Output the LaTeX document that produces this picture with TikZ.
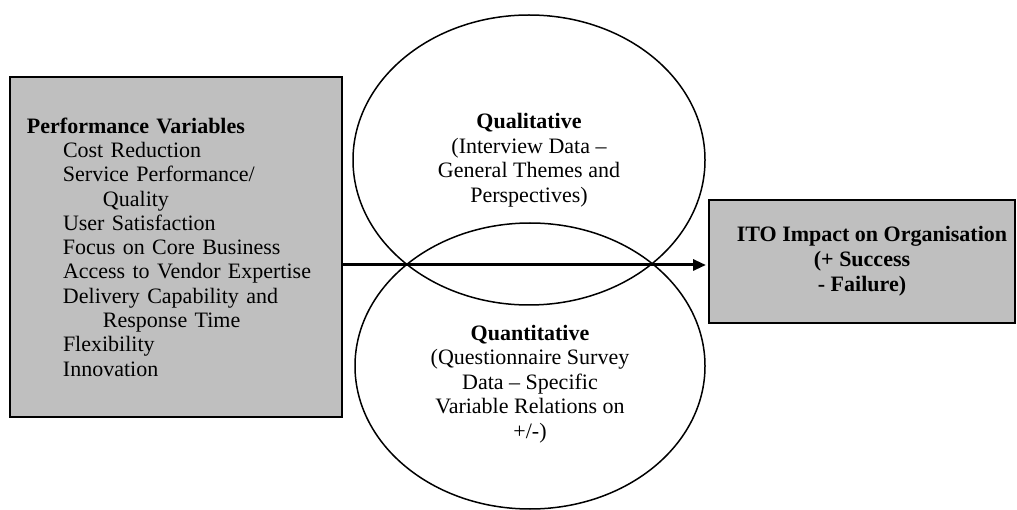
\documentclass[tikz,border=0pt]{standalone}
\usepackage{fontspec}
\setmainfont{Liberation Serif}
\usetikzlibrary{shapes.geometric,arrows.meta}
\begin{document}
\begin{tikzpicture}[x=1pt,y=-1pt,
  graybox/.style={draw=black,line width=2pt,fill=black!25,rectangle},
  oval/.style={draw=black,line width=1.5pt,ellipse,inner sep=0pt},
  txt/.style={font=\fontsize{22}{24.5}\selectfont,align=center},
  arr/.style={line width=3pt,-{Triangle[length=13pt,width=11pt]}}]
\useasboundingbox (0,0) rectangle (1017,510);
% left box
\node[graybox,minimum width=332pt,minimum height=340pt,inner xsep=17pt,
      text width=298pt,align=left,font=\fontsize{22}{24.3}\selectfont] (pv) at (176,247)
 {\textbf{Performance Variables}\\
  \hspace*{36pt}Cost Reduction\\
  \hspace*{36pt}Service Performance/\\
  \hspace*{76pt}Quality\\
  \hspace*{36pt}User Satisfaction\\
  \hspace*{36pt}Focus on Core Business\\
  \hspace*{36pt}Access to Vendor Expertise\\
  \hspace*{36pt}Delivery Capability and\\
  \hspace*{76pt}Response Time\\
  \hspace*{36pt}Flexibility\\
  \hspace*{36pt}Innovation};
% ellipses
\node[oval,minimum width=352pt,minimum height=290pt,txt] (ql) at (529,160)
 {\textbf{Qualitative}\\(Interview Data –\\General Themes and\\Perspectives)};
\node[oval,minimum width=350pt,minimum height=286pt] (qn) at (530,366) {};
\node[txt] (qntext) at (530,384)
 {\textbf{Quantitative}\\(Questionnaire Survey\\Data – Specific\\Variable Relations on\\+/-)};
% right box
\node[graybox,minimum width=306pt,minimum height=123pt,txt,
      font=\bfseries\fontsize{22}{25}\selectfont] (ito) at (862,261.5)
 {\hspace*{20pt}ITO Impact on Organisation\\(+ Success\\- Failure)};
% arrow
\coordinate (ay) at (0,265);
\draw[arr] (pv.east |- ay) -- ([xshift=-2pt]ito.west |- ay);
\end{tikzpicture}
\end{document}
